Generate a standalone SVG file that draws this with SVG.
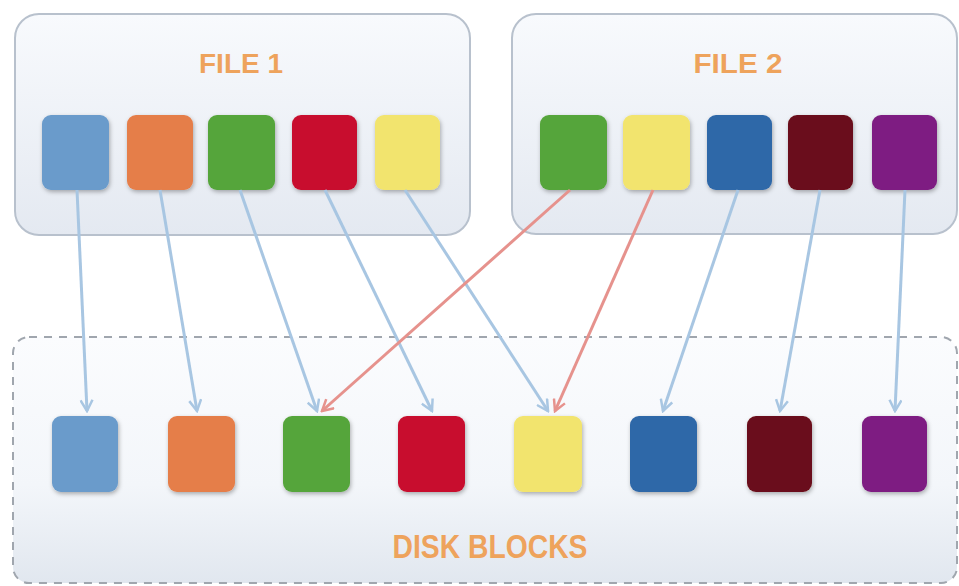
<svg xmlns="http://www.w3.org/2000/svg" width="959" height="586" viewBox="0 0 959 586">
<defs>
<linearGradient id="panel" x1="0" y1="0" x2="0" y2="1">
<stop offset="0" stop-color="#F8FAFD"/>
<stop offset="1" stop-color="#E4E9F1"/>
</linearGradient>
<linearGradient id="disk" x1="0" y1="0" x2="0" y2="1">
<stop offset="0" stop-color="#FBFCFE"/>
<stop offset="0.6" stop-color="#F3F6FA"/>
<stop offset="1" stop-color="#E1E7EF"/>
</linearGradient>
<filter id="sh" x="-20%" y="-20%" width="150%" height="150%">
<feDropShadow dx="1" dy="2" stdDeviation="2" flood-color="#000" flood-opacity="0.3"/>
</filter>
<marker id="ab" viewBox="0 0 14 14" refX="12" refY="7" markerWidth="14" markerHeight="14" markerUnits="userSpaceOnUse" orient="auto">
<path d="M1,1 L12,7 L1,13" fill="none" stroke="#A8C6E2" stroke-width="2.5"/>
</marker>
<marker id="ar" viewBox="0 0 14 14" refX="12" refY="7" markerWidth="14" markerHeight="14" markerUnits="userSpaceOnUse" orient="auto">
<path d="M1,1 L12,7 L1,13" fill="none" stroke="#E6928D" stroke-width="2.5"/>
</marker>
</defs>
<style>
.panel{fill:url(#panel);stroke:#B8C1CD;stroke-width:2}
.title{font-family:"Liberation Sans",Arial,sans-serif;font-weight:bold;fill:#EEA35C;text-anchor:middle}
.blk{filter:url(#sh)}
.cb{fill:none;stroke:#A8C6E2;stroke-width:3;marker-end:url(#ab)}
.cr{fill:none;stroke:#E6928D;stroke-width:3;marker-end:url(#ar)}
</style>
<rect width="959" height="586" fill="#FFFFFF"/>

<g id="disk-blocks">
<rect x="13" y="337" width="944" height="246" rx="16" fill="url(#disk)" stroke="#A0A6AE" stroke-width="2" stroke-dasharray="8,7"/>
<text class="title" x="490" y="558" font-size="34" textLength="195" lengthAdjust="spacingAndGlyphs">DISK BLOCKS</text>
</g>

<g id="file1">
<rect class="panel" x="15" y="14" width="455" height="221" rx="24"/>
<text class="title" x="241" y="73" font-size="28" textLength="84" lengthAdjust="spacingAndGlyphs">FILE 1</text>
</g>
<g id="file2">
<rect class="panel" x="512" y="14" width="445" height="220" rx="24"/>
<text class="title" x="738" y="73" font-size="28" textLength="89" lengthAdjust="spacingAndGlyphs">FILE 2</text>
</g>

<g id="f1-blocks" class="blk">
<rect id="f1b1" x="42" y="115" width="67" height="75" rx="9" fill="#6A9BCB"/>
<rect id="f1b2" x="127" y="115" width="66" height="75" rx="9" fill="#E57E4A"/>
<rect id="f1b3" x="208" y="115" width="67" height="75" rx="9" fill="#55A53B"/>
<rect id="f1b4" x="292" y="115" width="65" height="75" rx="9" fill="#C8102E"/>
<rect id="f1b5" x="375" y="115" width="65" height="75" rx="9" fill="#F2E46E"/>
</g>
<g id="f2-blocks" class="blk">
<rect id="f2b1" x="540" y="115" width="67" height="75" rx="9" fill="#55A53B"/>
<rect id="f2b2" x="623" y="115" width="67" height="75" rx="9" fill="#F2E46E"/>
<rect id="f2b3" x="707" y="115" width="65" height="75" rx="9" fill="#2E67A8"/>
<rect id="f2b4" x="788" y="115" width="65" height="75" rx="9" fill="#6B0F1A"/>
<rect id="f2b5" x="872" y="115" width="65" height="75" rx="9" fill="#7E1F82"/>
</g>
<g id="disk-block-row" class="blk">
<rect id="d1" x="52" y="416" width="66" height="76" rx="9" fill="#6A9BCB"/>
<rect id="d2" x="168" y="416" width="67" height="76" rx="9" fill="#E57E4A"/>
<rect id="d3" x="283" y="416" width="67" height="76" rx="9" fill="#55A53B"/>
<rect id="d4" x="398" y="416" width="67" height="76" rx="9" fill="#C8102E"/>
<rect id="d5" x="514" y="416" width="68" height="76" rx="9" fill="#F2E46E"/>
<rect id="d6" x="630" y="416" width="67" height="76" rx="9" fill="#2E67A8"/>
<rect id="d7" x="747" y="416" width="65" height="76" rx="9" fill="#6B0F1A"/>
<rect id="d8" x="862" y="416" width="65" height="76" rx="9" fill="#7E1F82"/>
</g>

<g id="connectors">
<line class="cb" x1="77" y1="190" x2="87" y2="411"/>
<line class="cb" x1="160" y1="190" x2="197" y2="411"/>
<line class="cb" x1="240" y1="190" x2="317" y2="411"/>
<line class="cb" x1="325" y1="190" x2="432" y2="411"/>
<line class="cb" x1="405" y1="190" x2="548" y2="411"/>
<line class="cr" x1="570" y1="190" x2="322" y2="411"/>
<line class="cr" x1="653" y1="190" x2="555" y2="411"/>
<line class="cb" x1="738" y1="190" x2="663" y2="411"/>
<line class="cb" x1="820" y1="190" x2="780" y2="411"/>
<line class="cb" x1="905" y1="190" x2="895" y2="411"/>
</g>
</svg>
